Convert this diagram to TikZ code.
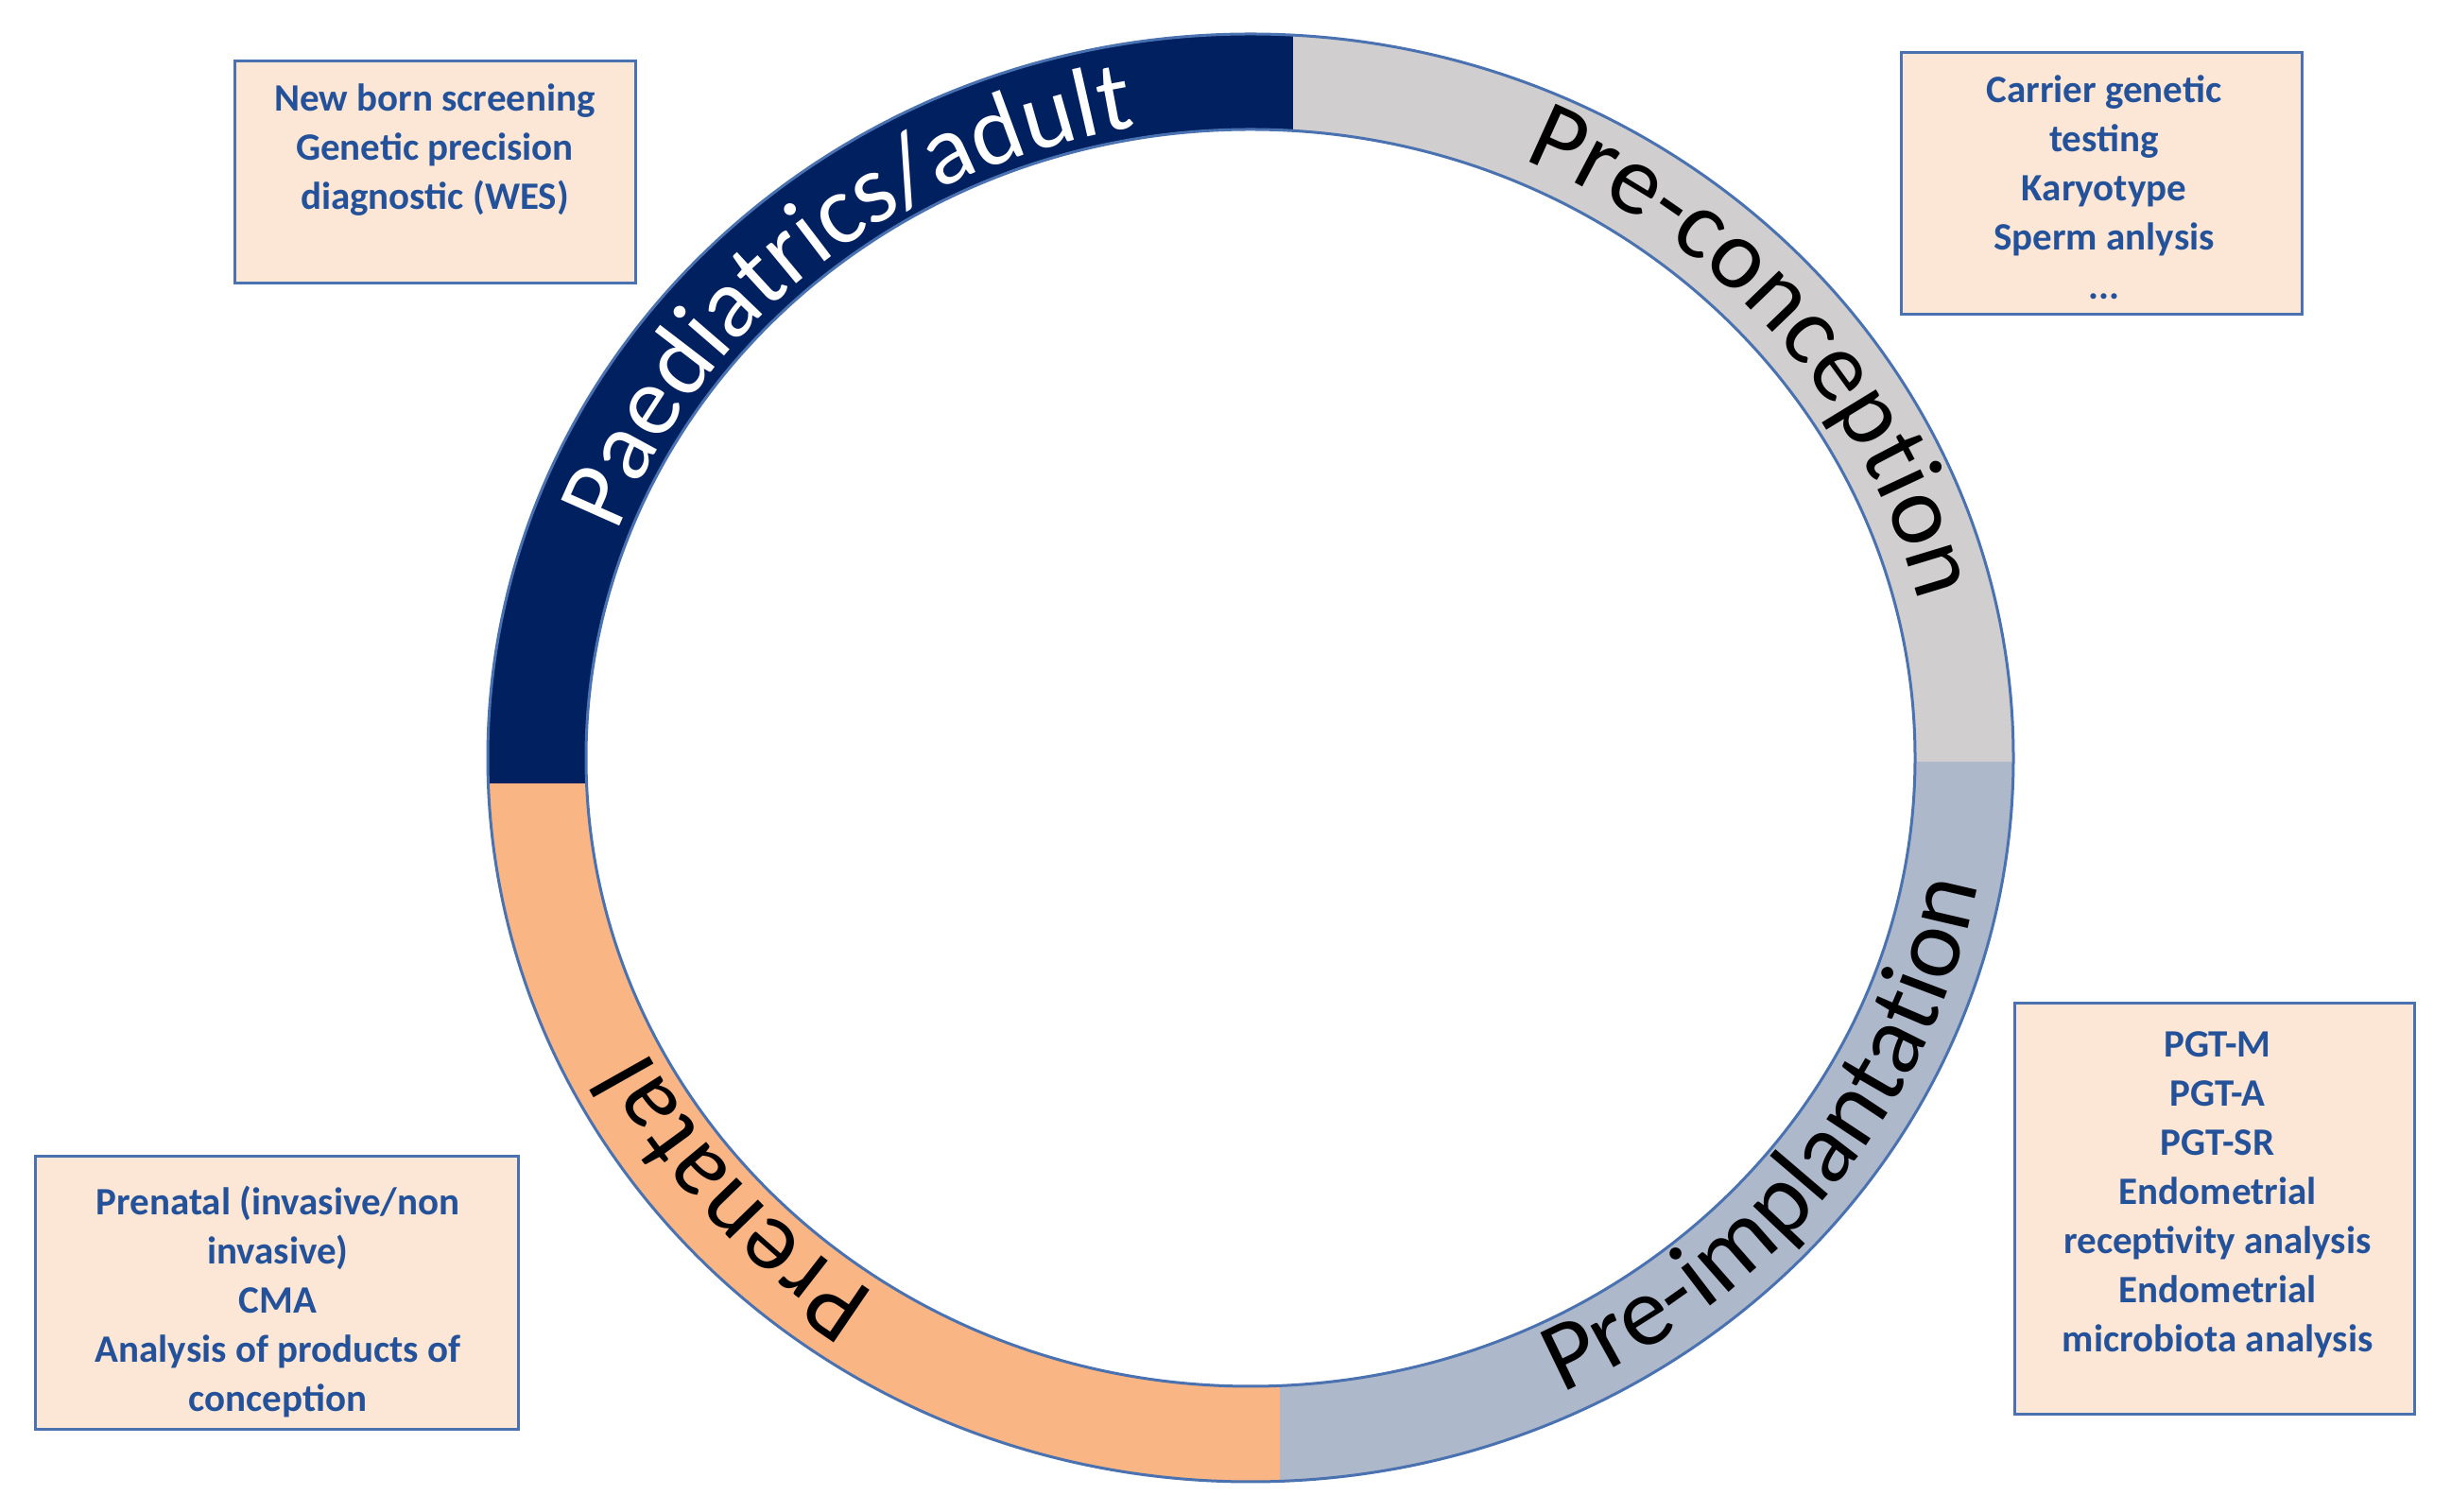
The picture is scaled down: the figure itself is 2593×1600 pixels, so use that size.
\documentclass[tikz,border=0pt]{standalone}
\usepackage{fontspec}
\setmainfont{Carlito}
\usetikzlibrary{decorations.text}
\definecolor{ringdark}{HTML}{002060}
\definecolor{ringgrey}{HTML}{D0CECE}
\definecolor{ringbluegrey}{HTML}{ADB9CA}
\definecolor{ringorange}{HTML}{F9B584}
\definecolor{ringline}{HTML}{4A72B0}
\definecolor{boxfill}{HTML}{FCE6D6}
\definecolor{boxborder}{HTML}{4A72B0}
\definecolor{boxtextc}{HTML}{24529A}
\begin{document}
\begin{tikzpicture}[x=1pt,y=1pt,
  boxframe/.style={draw=boxborder, line width=3pt, fill=boxfill, inner sep=0pt, outer sep=0pt},
  boxtext/.style={text=boxtextc, font=\bfseries\fontsize{41}{52}\selectfont, align=center, anchor=north, inner sep=0pt},
  ringedge/.style={draw=ringline, line width=3pt}]
\useasboundingbox (0,0) rectangle (2593,1600);
\coordinate (C) at (1323,798);
% ring segments
\begin{scope}
\clip (0,770) rectangle (1368,1600);
\fill[ringdark, even odd rule] (C) ellipse [x radius=807pt, y radius=766pt] (C) ellipse [x radius=703pt, y radius=665pt];
\end{scope}
\begin{scope}
\clip (1368,793) rectangle (2593,1600);
\fill[ringgrey, even odd rule] (C) ellipse [x radius=807pt, y radius=766pt] (C) ellipse [x radius=703pt, y radius=665pt];
\end{scope}
\begin{scope}
\clip (1354,0) rectangle (2593,793);
\fill[ringbluegrey, even odd rule] (C) ellipse [x radius=807pt, y radius=766pt] (C) ellipse [x radius=703pt, y radius=665pt];
\end{scope}
\begin{scope}
\clip (0,0) rectangle (1354,770);
\fill[ringorange, even odd rule] (C) ellipse [x radius=807pt, y radius=766pt] (C) ellipse [x radius=703pt, y radius=665pt];
\end{scope}
\path[ringedge] (C) ellipse [x radius=807pt, y radius=766pt];
\path[ringedge] (C) ellipse [x radius=703pt, y radius=665pt];
% ring labels
\path[decorate, decoration={text along path, text align=center, text color=white,
  text={|\fontsize{105}{105}\selectfont|Paediatrics/adult}}]
  ([shift={(175:715pt and 677pt)}]C) arc[start angle=175, end angle=85, x radius=715pt, y radius=677pt];
\path[decorate, decoration={text along path, text align=center, text color=black,
  text={|\fontsize{105}{105}\selectfont|Pre-conception}}]
  ([shift={(95:728pt and 690pt)}]C) arc[start angle=95, end angle=-16, x radius=728pt, y radius=690pt];
\path[decorate, decoration={text along path, text align=center, text color=black,
  text={|\fontsize{105}{105}\selectfont|Pre-implantation}}]
  ([shift={(-95:782pt and 741pt)}]C) arc[start angle=-95, end angle=21, x radius=782pt, y radius=741pt];
\path[decorate, decoration={text along path, text align=center, text color=black,
  text={|\fontsize{105}{105}\selectfont|Prenatal}}]
  ([shift={(270:718pt and 680pt)}]C) arc[start angle=270, end angle=172, x radius=718pt, y radius=680pt];
% boxes
\node[boxframe, minimum width=424pt, minimum height=235pt] (b1) at (460,1417.5) {};
\node[boxtext] (t1) at (460,1511) {New born screening\\Genetic precision\\diagnostic (WES)};
\node[boxframe, minimum width=424pt, minimum height=277pt] (b2) at (2223,1405.5) {};
\node[boxtext] (t2) at (2226,1521) {Carrier genetic\\testing\\Karyotype\\Sperm anlysis\\...};
\node[boxframe, minimum width=511pt, minimum height=289pt] (b3) at (293,231.5) {};
\node[boxtext] (t3) at (294,345) {Prenatal (invasive/non\\invasive)\\CMA\\Analysis of products of\\conception};
\node[boxframe, minimum width=423pt, minimum height=435pt] (b4) at (2342.5,320.5) {};
\node[boxtext] (t4) at (2346,509) {PGT-M\\PGT-A\\PGT-SR\\Endometrial\\receptivity analysis\\Endometrial\\microbiota analysis};
\end{tikzpicture}
\end{document}
